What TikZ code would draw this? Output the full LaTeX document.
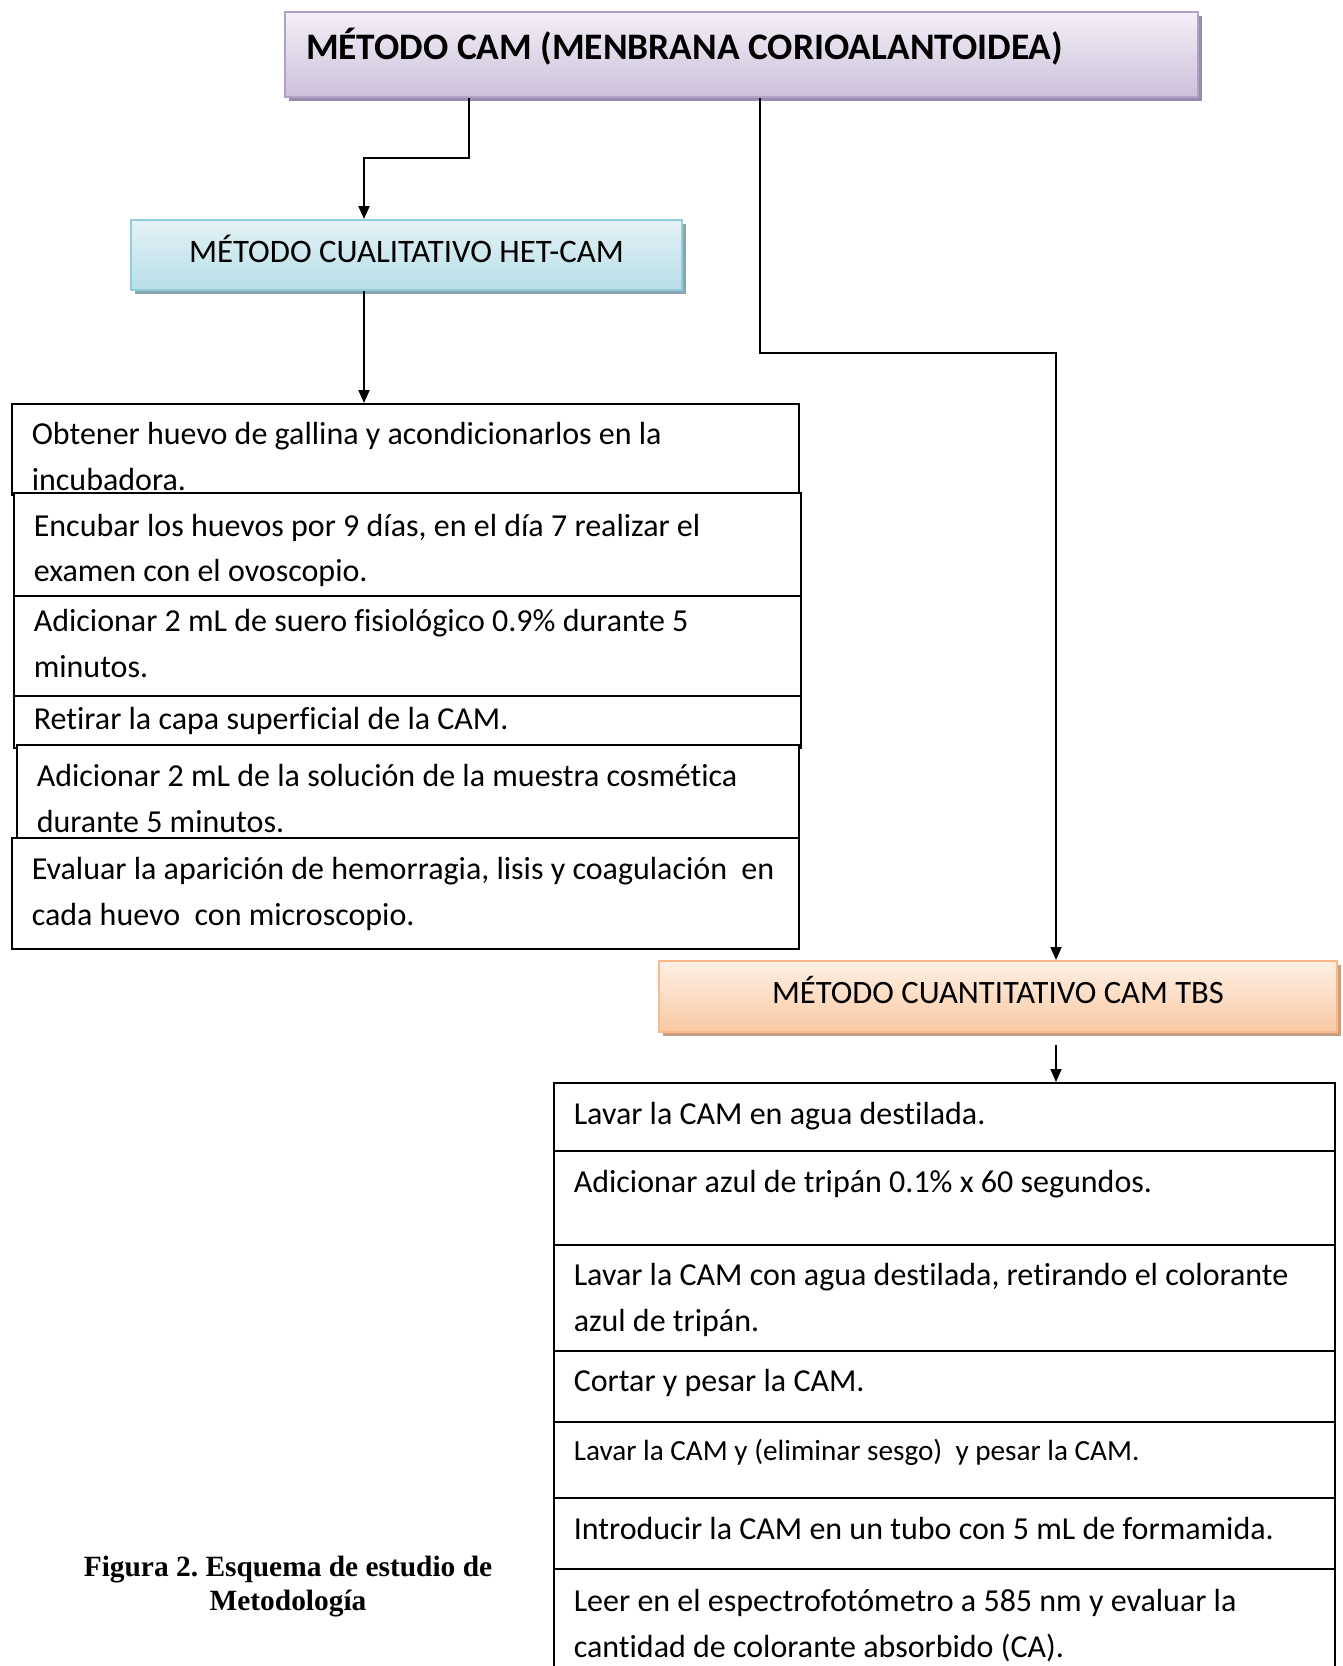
\documentclass[tikz,border=0pt]{standalone}
\usepackage{fontspec}
\setmainfont{Carlito}[Ligatures=NoCommon]
\newfontfamily\capfont{Liberation Serif}
\usetikzlibrary{arrows.meta,shadows}
\frenchspacing
\definecolor{titletop}{HTML}{F4F0F8}
\definecolor{titlebot}{HTML}{CCC0DA}
\definecolor{titleline}{HTML}{B2A1C7}
\definecolor{titleshadow}{HTML}{9A8CB0}
\definecolor{hettop}{HTML}{E4F2F6}
\definecolor{hetbot}{HTML}{B7DEE8}
\definecolor{hetline}{HTML}{92CDDC}
\definecolor{hetshadow}{HTML}{8AA5AF}
\definecolor{tbstop}{HTML}{FEF0E5}
\definecolor{tbsbot}{HTML}{FAC9A2}
\definecolor{tbsline}{HTML}{FAB98A}
\definecolor{tbsshadow}{HTML}{C8A080}
\newcommand\myTop[1]{\rule{0pt}{#1pt}}
\newcommand\myBot[1]{\rule[-#1pt]{0pt}{#1pt}}
\tikzset{
  every node/.append style={execute at begin node={\spaceskip=0pt\xspaceskip=0pt}},
  headbox/.style={anchor=north west, line width=2pt, inner ysep=0pt},
  titlebox/.style={headbox, draw=titleline, top color=titletop, bottom color=titlebot,
    general shadow={fill=titleshadow, shadow xshift=4pt, shadow yshift=-4pt},
    font=\bfseries\fontsize{37.4}{40}\selectfont, align=left, inner xsep=21pt,
    text height=26pt, text depth=16pt},
  hetbox/.style={headbox, draw=hetline, top color=hettop, bottom color=hetbot,
    general shadow={fill=hetshadow, shadow xshift=4pt, shadow yshift=-4pt},
    font=\fontsize{32.8}{36}\selectfont, align=center, text height=24pt, text depth=9.4pt},
  tbsbox/.style={headbox, draw=tbsline, top color=tbstop, bottom color=tbsbot,
    general shadow={fill=tbsshadow, shadow xshift=4pt, shadow yshift=-4pt},
    font=\fontsize{32.6}{36}\selectfont, align=center, text height=24pt, text depth=9.4pt},
  stepbox/.style={draw, line width=1.6pt, fill=white, anchor=north west, align=left,
    inner xsep=20pt, inner ysep=0pt, font=\fontsize{32}{45.6}\selectfont},
  conn/.style={line width=1.8pt, -{Triangle[length=13pt,width=11pt]}}
}
\begin{document}
\begin{tikzpicture}[x=1pt,y=-1pt]
\path[use as bounding box, clip] (0,0) rectangle (1343,1666);
\fill[white] (0,0) rectangle (1343,1666);

% header boxes
\node[titlebox, minimum width=913pt, minimum height=85pt, text width=871pt] (title) at (284,11)
  {MÉTODO CAM (MENBRANA CORIOALANTOIDEA)};
\node[hetbox, minimum width=551pt, minimum height=70pt] (het) at (130,219)
  {MÉTODO CUALITATIVO HET-CAM};
\node[tbsbox, minimum width=678pt, minimum height=71pt] (tbs) at (658,960)
  {MÉTODO CUANTITATIVO CAM TBS};

% left stack
\node[stepbox, minimum width=787pt, minimum height=91pt, text width=747pt] (l1) at (11,403)
  {\myTop{41}Obtener huevo de gallina y acondicionarlos en la\\incubadora.\myBot{4.4}};
\node[stepbox, minimum width=787pt, minimum height=103pt, text width=747pt] (l2) at (13,492)
  {\myTop{43.5}Encubar los huevos por 9 días, en el día 7 realizar el\\examen con el ovoscopio.\myBot{13.9}};
\node[stepbox, minimum width=787pt, minimum height=100pt, text width=747pt] (l3) at (13,595)
  {\myTop{35.7}Adicionar 2 mL de suero fisiológico 0.9\% durante 5\\minutos.\myBot{18.7}};
\node[stepbox, minimum width=787pt, minimum height=52pt, text width=747pt] (l4) at (13,695)
  {\myTop{33.6}Retirar la capa superficial de la CAM.\myBot{18.4}};
\node[stepbox, minimum width=782pt, minimum height=95pt, text width=742pt] (l5) at (16,744)
  {\myTop{42.1}Adicionar 2 mL de la solución de la muestra cosmética\\durante 5 minutos.\myBot{7.3}};
\node[stepbox, minimum width=787pt, minimum height=111pt, text width=747pt] (l6) at (11,837)
  {\myTop{42.1}\makebox[747pt][l]{Evaluar la aparición de hemorragia, lisis y coagulación\ \ en}\\cada huevo\ \ con microscopio.\myBot{23.3}};

% right stack
\node[stepbox, minimum width=781pt, minimum height=68pt, text width=741pt] (r1) at (553,1082)
  {\myTop{41.6}Lavar la CAM en agua destilada.\myBot{26.4}};
\node[stepbox, minimum width=781pt, minimum height=94pt, text width=741pt] (r2) at (553,1150)
  {\myTop{41.6}Adicionar azul de tripán 0.1\% x 60 segundos.\myBot{52.4}};
\node[stepbox, minimum width=781pt, minimum height=106pt, text width=741pt] (r3) at (553,1244)
  {\myTop{41}Lavar la CAM con agua destilada, retirando el colorante\\azul de tripán.\myBot{19.4}};
\node[stepbox, minimum width=781pt, minimum height=71pt, text width=741pt] (r4) at (553,1350)
  {\myTop{41}Cortar y pesar la CAM.\myBot{30}};
\node[stepbox, minimum width=781pt, minimum height=76pt, text width=741pt,
  font=\fontsize{29.2}{40}\selectfont] (r5) at (553,1421)
  {\myTop{38.4}Lavar la CAM y (eliminar sesgo)\ \ y pesar la CAM.\myBot{37.6}};
\node[stepbox, minimum width=781pt, minimum height=71pt, text width=741pt] (r6) at (553,1497)
  {\myTop{42.1}Introducir la CAM en un tubo con 5 mL de formamida.\myBot{28.9}};
\node[stepbox, minimum width=781pt, minimum height=104pt, text width=741pt] (r7) at (553,1568)
  {\myTop{42.7}Leer en el espectrofotómetro a 585 nm y evaluar la\\cantidad de colorante absorbido (CA).\myBot{15.7}};

% caption
\node[font=\capfont\bfseries\fontsize{29.4}{34}\selectfont, align=center] (cap) at (288,1587)
  {Figura 2. Esquema de estudio de\\Metodología};

% connectors
\draw[conn] ([xshift=185pt]title.south west) -- ++(0,60) -| ([xshift=234pt]het.north west);
\draw[conn] ([xshift=476pt]title.south west) -- ++(0,255) -| ([xshift=398pt]tbs.north west);
\coordinate (hetout) at ([xshift=234pt]het.south west);
\draw[conn] (hetout) -- (hetout |- l1.north);
\coordinate (tbsout) at ([xshift=398pt,yshift=-12pt]tbs.south west);
\draw[conn] (tbsout) -- (tbsout |- r1.north);
\end{tikzpicture}
\end{document}
